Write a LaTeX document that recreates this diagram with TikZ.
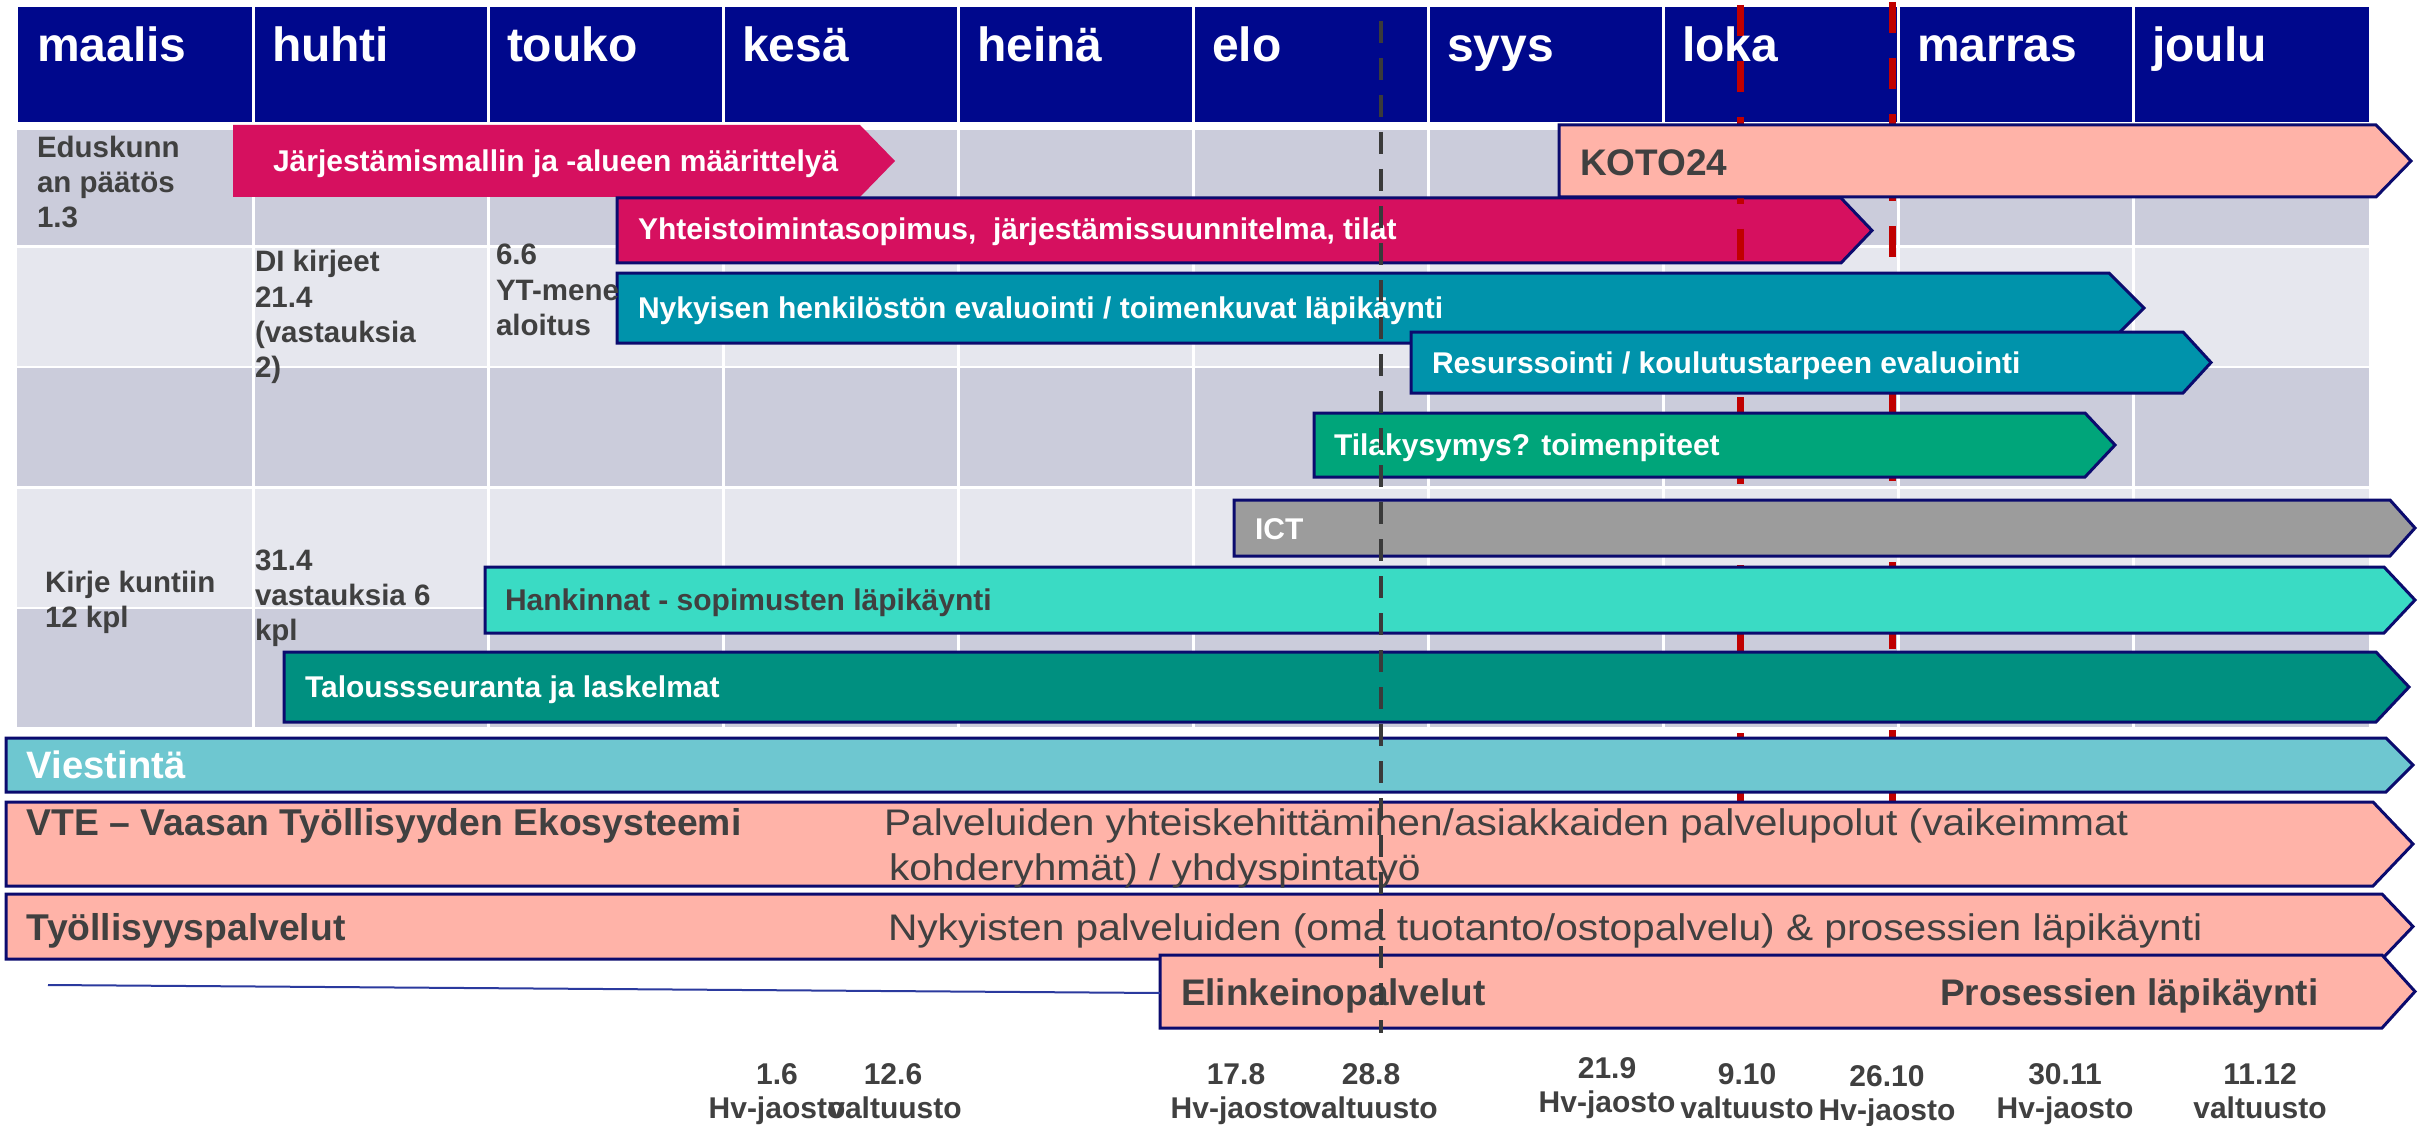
\documentclass[tikz,border=0pt]{standalone}
\usepackage{fontspec}
\setmainfont{Liberation Sans}
\newfontfamily\widefont{Liberation Sans}[FakeStretch=1.1]
\definecolor{hdr}{HTML}{00088C}
\definecolor{bandA}{HTML}{CBCCDB}
\definecolor{bandB}{HTML}{E6E7EE}
\definecolor{cMag}{HTML}{D6105F}
\definecolor{cTeal}{HTML}{0093AB}
\definecolor{cGreen}{HTML}{00A57A}
\definecolor{cGrey}{HTML}{9C9C9C}
\definecolor{cAqua}{HTML}{3ADBC4}
\definecolor{cDTeal}{HTML}{009080}
\definecolor{cLTeal}{HTML}{6EC7D0}
\definecolor{cSalmon}{HTML}{FFB3A8}
\definecolor{cBorder}{HTML}{0B0B6E}
\definecolor{cText}{HTML}{404040}
\definecolor{cRed}{HTML}{C00000}
\definecolor{cDash}{HTML}{3A3A3A}
\definecolor{cLine}{HTML}{2B3A9E}
\newcommand\fsz[1]{\fontsize{#1}{#1}\selectfont}
% #1 style, #2 x1, #3 x2, #4 tip x, #5 top, #6 bottom
\newcommand\gbar[6]{\path[#1] (#2,#5) -- (#3,#5) -- (#4,{(#5+#6)/2}) -- (#3,#6) -- (#2,#6) -- cycle;}
\tikzset{
  txt/.style={anchor=base west, inner sep=0pt, outer sep=0pt},
  month/.style={txt, text=white, font=\bfseries\fsz{48}},
  barw/.style={txt, text=white, font=\bfseries\fsz{30}},
  bard/.style={txt, text=cText, font=\bfseries\fsz{30}},
  bigb/.style={txt, text=cText, font=\bfseries\fsz{37.3}},
  bigw/.style={txt, text=white, font=\bfseries\fsz{38.2}},
  bigr/.style={txt, text=cText, font=\widefont\fsz{37}},
  note/.style={txt, text=cText, font=\bfseries\fsz{29.5}},
  datel/.style={anchor=base, inner sep=0pt, text=cText, font=\bfseries\fsz{30}},
  gb/.style={draw=cBorder, line width=3pt, line join=miter},
}
\begin{document}
\begin{tikzpicture}[x=1pt, y=-1pt]
\useasboundingbox (0,0) rectangle (2418,1126);
\fill[white] (0,0) rectangle (2418,1126);
% header
\fill[hdr] (18,7) rectangle (2369,122);
% bands
\fill[bandA] (17,130) rectangle (2369,245);
\fill[bandB] (17,248) rectangle (2369,366);
\fill[bandA] (17,368) rectangle (2369,486);
\fill[bandB] (17,489) rectangle (2369,607);
\fill[bandA] (17,609) rectangle (2369,727);
% column separators
\foreach \k in {1,...,9}{
  \draw[white, line width=3pt] ({18+235.1*\k},7) -- ({18+235.1*\k},727);
}
% bars below the red lines
\gbar{fill=cMag}{233}{860}{895}{125}{197}
\node[barw] (tjarj) at (273,172) {Järjestämismallin ja -alueen määrittelyä};
\gbar{fill=cMag, gb}{617}{1841}{1872}{198}{263}
\node[barw] (tyht) at (638,240) {Yhteistoimintasopimus,\ \ järjestämissuunnitelma, tilat};
% red dashed lines
\draw[cRed, line width=7pt, dash pattern=on 31pt off 25pt] (1740,5) coordinate (ra) -- (1740,830) coordinate (rb);
\draw[cRed, line width=7pt, dash pattern=on 31pt off 25pt] (1892,2) coordinate (rc) -- (1892,830) coordinate (rd);
% months
\node[month] (m1) at (37,62) {maalis};
\node[month] (m2) at (272,62) {huhti};
\node[month] (m3) at (507,62) {touko};
\node[month] (m4) at (742,62) {kesä};
\node[month] (m5) at (977,62) {heinä};
\node[month] (m6) at (1212,62) {elo};
\node[month] (m7) at (1447,62) {syys};
\node[month] (m8) at (1682,62) {loka};
\node[month] (m9) at (1917,62) {marras};
\node[month] (m10) at (2152,62) {joulu};
% other bars
\gbar{fill=cSalmon, gb}{1559}{2376}{2411}{125}{197}
\node[txt, text=cText, font=\bfseries\fsz{37}] (tkoto) at (1580,176) {KOTO24};
\gbar{fill=cTeal, gb}{617}{2109}{2144}{273}{343}
\node[barw] (tnyk) at (638,318) {Nykyisen henkilöstön evaluointi / toimenkuvat läpikäynti};
\gbar{fill=cTeal, gb}{1411}{2183}{2211}{332}{393}
\node[barw] (tres) at (1432,373) {Resurssointi / koulutustarpeen evaluointi};
\gbar{fill=cGreen, gb}{1314}{2085}{2115}{413}{477}
\node[barw] (ttila) at (1334,455) {Tilakysymys? toimenpiteet};
\gbar{fill=cGrey, gb}{1234}{2390}{2415}{500}{556}
\node[barw] (tict) at (1255,539) {ICT};
\gbar{fill=cAqua, gb}{485}{2384}{2415}{567}{633}
\node[bard] (thank) at (505,610) {Hankinnat - sopimusten läpikäynti};
\gbar{fill=cDTeal, gb}{284}{2376}{2409}{652}{722}
\node[barw] (ttalo) at (305,697) {Taloussseuranta ja laskelmat};
\gbar{fill=cLTeal, gb}{6}{2386}{2413}{738}{792}
\node[bigw] (tvies) at (27,778) {Viestintä};
\gbar{fill=cSalmon, gb}{6}{2373}{2413}{802}{886}
\node[bigb] (tvte) at (27,835) {VTE – Vaasan Työllisyyden Ekosysteemi};
\node[bigr] (tvte2) at (884,835) {Palveluiden yhteiskehittämihen/asiakkaiden palvelupolut (vaikeimmat};
\node[bigr] (tvte3) at (889,880) {kohderyhmät) / yhdyspintatyö};
\gbar{fill=cSalmon, gb}{6}{2382}{2413}{894}{959}
\node[bigb] (ttyo) at (27,940) {Työllisyyspalvelut};
\node[bigr] (ttyo2) at (888,940) {Nykyisten palveluiden (oma tuotanto/ostopalvelu) \& prosessien läpikäynti};
\gbar{fill=cSalmon, gb}{1160}{2382}{2415}{955}{1028}
\node[txt, text=cText, font=\bfseries\fsz{37}] (telin) at (1181,1005) {Elinkeinopalvelut};
\node[txt, text=cText, font=\bfseries\fsz{37}] (telin2) at (1940,1005) {Prosessien läpikäynti};
% left notes
\node[note] (n1a) at (37,158) {Eduskunn};
\node[note] (n1b) at (37,193) {an päätös};
\node[note] (n1c) at (37,228) {1.3};
\node[note] (n2a) at (255,272) {DI kirjeet};
\node[note] (n2b) at (255,307) {21.4};
\node[note] (n2c) at (255,342) {(vastauksia};
\node[note] (n2d) at (255,377) {2)};
\node[note] (n3a) at (496,265) {6.6};
\node[note] (n3b) at (496,300) {YT-mene};
\node[note] (n3c) at (496,335) {aloitus};
\node[note] (n4a) at (45,592) {Kirje kuntiin};
\node[note] (n4b) at (45,627) {12 kpl};
\node[note] (n5a) at (255,570) {31.4};
\node[note] (n5b) at (255,605) {vastauksia 6};
\node[note] (n5c) at (255,640) {kpl};
% thin line
\coordinate (la) at (48,985);
\draw[cLine, line width=2pt] (la) -- (1160,993);
% dates
\node[datel] (d1) at (777,1084) {1.6};
\node[datel] (d1b) at (777,1118) {Hv-jaosto};
\node[datel] (d2) at (893,1084) {12.6};
\node[datel] (d2b) at (895,1118) {valtuusto};
\node[datel] (d3) at (1236,1084) {17.8};
\node[datel] (d3b) at (1239,1118) {Hv-jaosto};
\node[datel] (d4) at (1371,1084) {28.8};
\node[datel] (d4b) at (1371,1118) {valtuusto};
\node[datel] (d5) at (1607,1078) {21.9};
\node[datel] (d5b) at (1607,1112) {Hv-jaosto};
\node[datel] (d6) at (1747,1084) {9.10};
\node[datel] (d6b) at (1747,1118) {valtuusto};
\node[datel] (d7) at (1887,1086) {26.10};
\node[datel] (d7b) at (1887,1120) {Hv-jaosto};
\node[datel] (d8) at (2065,1084) {30.11};
\node[datel] (d8b) at (2065,1118) {Hv-jaosto};
\node[datel] (d9) at (2260,1084) {11.12};
\node[datel] (d9b) at (2260,1118) {valtuusto};
% black dashed line on top
\draw[cDash, line width=4pt, dash pattern=on 22pt off 15pt] (1381,21) coordinate (ka) -- (1381,1033) coordinate (kb);
\end{tikzpicture}
\end{document}
